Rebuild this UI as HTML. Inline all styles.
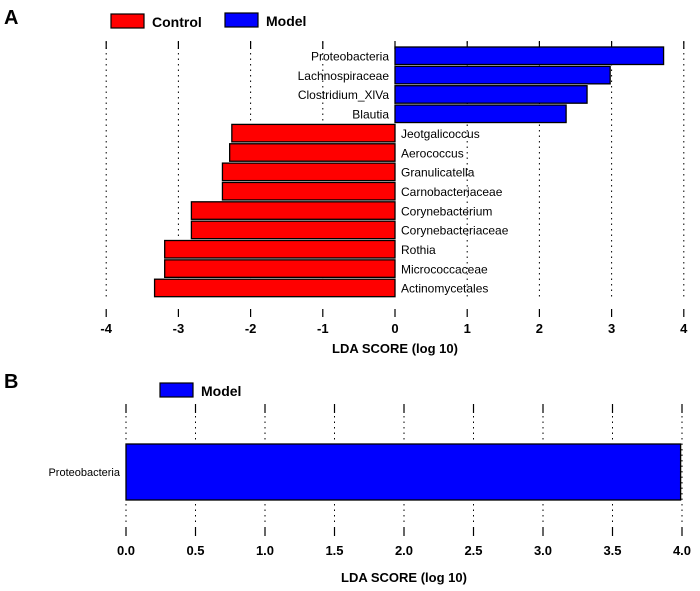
<!DOCTYPE html>
<html><head><meta charset="utf-8"><style>
body{margin:0;background:#fff;}
svg text{font-family:"Liberation Sans",Arial,sans-serif;}
</style></head><body>
<svg id="c" width="700" height="586" viewBox="0 0 700 586">
<text x="4" y="24" font-size="20" font-weight="bold">A</text>
<text x="4" y="388" font-size="20" font-weight="bold">B</text>
<g>
<rect x="111" y="14" width="33" height="14" fill="#f00" stroke="#000" stroke-width="1.2"/>
<text x="152" y="27" font-size="14" font-weight="bold">Control</text>
<rect x="225" y="13" width="33" height="14" fill="#00f" stroke="#000" stroke-width="1.2"/>
<text x="266" y="26" font-size="14" font-weight="bold">Model</text>
</g>
<g>
<rect x="160" y="383" width="33" height="14" fill="#00f" stroke="#000" stroke-width="1.2"/>
<text x="201" y="396" font-size="14" font-weight="bold">Model</text>
</g>
<g id="ga"></g><g id="gb"></g>
</svg>
<script>
const catsA=["Proteobacteria","Lachnospiraceae","Clostridium_XlVa","Blautia","Jeotgalicoccus","Aerococcus","Granulicatella","Carnobacteriaceae","Corynebacterium","Corynebacteriaceae","Rothia","Micrococcaceae","Actinomycetales"];
const valsA=[3.72,2.98,2.66,2.37,-2.26,-2.29,-2.39,-2.39,-2.82,-2.82,-3.19,-3.19,-3.33];
const ticksA=[-4,-3,-2,-1,0,1,2,3,4];
const catsB=["Proteobacteria"];
const valsB=[3.99];
const ticksB=["0.0","0.5","1.0","1.5","2.0","2.5","3.0","3.5","4.0"];
const NS="http://www.w3.org/2000/svg";
function mk(p,t,a){const e=document.createElementNS(NS,t);for(const k in a)e.setAttribute(k,a[k]);p.appendChild(e);return e;}
const ga=document.getElementById('ga'),gb=document.getElementById('gb');
const xA=v=>395+v*72.2;
const yA=i=>47+i*19.35;
ticksA.forEach(t=>{
 const g=mk(ga,'g',{});
 
 
 const x=xA(t);
 mk(g,'line',{x1:x,x2:x,y1:42,y2:300,stroke:'#000','stroke-width':1,'stroke-dasharray':'1.5,4'});
 mk(g,'line',{x1:x,x2:x,y1:41,y2:49,stroke:'#000','stroke-width':1.2});
 mk(g,'line',{x1:x,x2:x,y1:309,y2:317,stroke:'#000','stroke-width':1.2});
 const tx=mk(g,'text',{x:x,y:333,'font-size':13,'font-weight':'bold','text-anchor':'middle'});tx.textContent=t;
});
catsA.forEach((c,i)=>{
 const v=valsA[i],y=yA(i),x0=xA(0),x1=xA(v);
 const r=mk(ga,'rect',{x:Math.min(x0,x1),y:y,width:Math.abs(x1-x0),height:17.5,fill:v>0?'#00f':'#f00',stroke:'#000','stroke-width':1.3});
 
 
 const t=mk(ga,'text',{x:v>0?x0-6:x0+6,y:y+13.5,'font-size':12,'text-anchor':v>0?'end':'start'});
 
 
 t.textContent=c;
});
const ta=mk(ga,'text',{x:395,y:353,'font-size':13,'font-weight':'bold','text-anchor':'middle'});


ta.textContent='LDA SCORE (log 10)';
const xB=v=>126+v*139;
ticksB.forEach(t=>{
 const g=mk(gb,'g',{});
 
 
 const x=xB(parseFloat(t));
 mk(g,'line',{x1:x,x2:x,y1:405,y2:525,stroke:'#000','stroke-width':1,'stroke-dasharray':'1.5,4'});
 mk(g,'line',{x1:x,x2:x,y1:404,y2:413,stroke:'#000','stroke-width':1.2});
 mk(g,'line',{x1:x,x2:x,y1:527,y2:536,stroke:'#000','stroke-width':1.2});
 const tx=mk(g,'text',{x:x,y:555,'font-size':13,'font-weight':'bold','text-anchor':'middle'});tx.textContent=t;
});
catsB.forEach((c,i)=>{
 const x0=xB(0),x1=xB(valsB[i]);
 const r=mk(gb,'rect',{x:x0,y:444+i*60,width:x1-x0,height:56,fill:'#00f',stroke:'#000','stroke-width':1.3});
 
 
 const t=mk(gb,'text',{x:x0-6,y:476+i*60,'font-size':11,'text-anchor':'end'});
 
 
 t.textContent=c;
});
const tb=mk(gb,'text',{x:404,y:582,'font-size':13,'font-weight':'bold','text-anchor':'middle'});


tb.textContent='LDA SCORE (log 10)';
</script>
</body></html>
